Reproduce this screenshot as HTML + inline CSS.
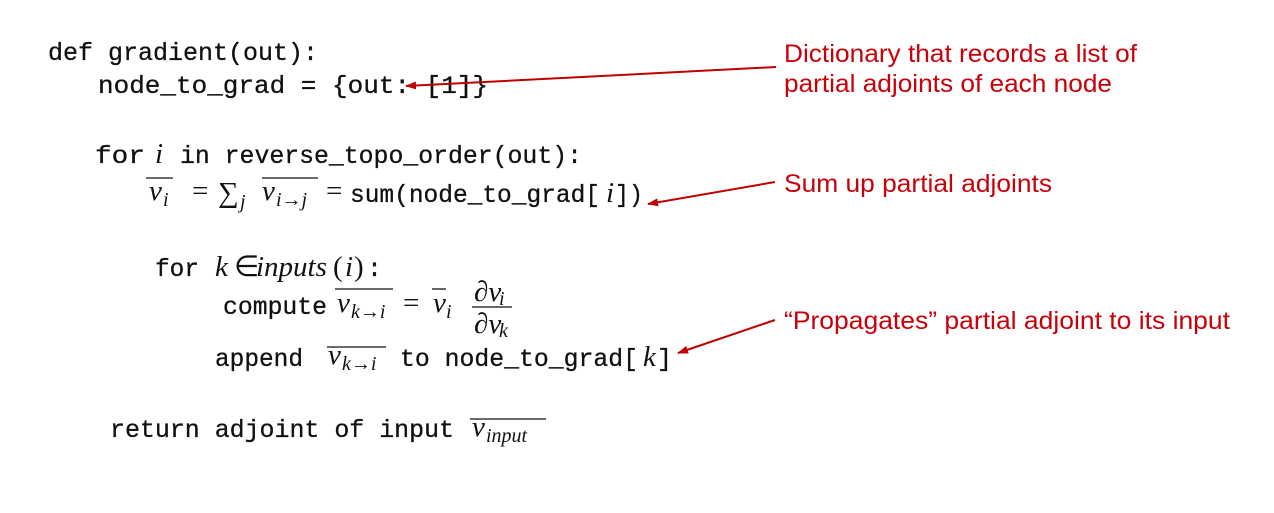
<!DOCTYPE html>
<html><head><meta charset="utf-8"><style>
html,body{margin:0;padding:0;background:#fff;}
svg{display:block;}
.m{font-family:"Liberation Mono",monospace;font-size:25px;fill:#111;stroke:#111;stroke-width:0.3;}
.i{font-family:"Liberation Serif",serif;font-style:italic;font-size:29px;font-weight:normal;fill:#111;stroke:none;}
.sb{font-family:"Liberation Serif",serif;font-style:italic;font-size:20px;font-weight:normal;fill:#111;stroke:none;}
.s{font-family:"Liberation Serif",serif;font-size:29px;font-weight:normal;fill:#111;stroke:none;}
.r{font-family:"Liberation Sans",sans-serif;font-size:25px;fill:#c8000a;}
</style></head><body>
<svg width="1274" height="513" viewBox="0 0 1274 513" xmlns="http://www.w3.org/2000/svg">
<defs><marker id="a" markerWidth="11" markerHeight="8" refX="10" refY="4" orient="auto" markerUnits="userSpaceOnUse"><path d="M11,4 L0,0 L0,8 z" fill="#c00000"/></marker></defs>
<g class="m">
<text x="48" y="60" textLength="270" lengthAdjust="spacingAndGlyphs">def gradient(out):</text>
<text x="98" y="93" textLength="390" lengthAdjust="spacingAndGlyphs">node_to_grad = {out: [1]}</text>
<text x="95" y="163" textLength="50" lengthAdjust="spacingAndGlyphs">for</text>
<text x="155" y="163" class="i">i</text>
<text x="180" y="163" textLength="402" lengthAdjust="spacingAndGlyphs">in reverse_topo_order(out):</text>

<text x="149" y="200" class="i">v</text><text x="163" y="206" class="sb">i</text>
<text x="192" y="200" class="s">=</text>
<text x="218" y="202" class="s" font-size="30">∑</text><text x="240" y="208" class="sb">j</text>
<text x="262" y="200" class="i">v</text><text x="276" y="206" class="sb">i→j</text>
<text x="326" y="200" class="s">=</text>
<text x="350" y="202" textLength="250" lengthAdjust="spacingAndGlyphs">sum(node_to_grad[</text>
<text x="606" y="202" class="i">i</text>
<text x="615" y="202" textLength="28" lengthAdjust="spacingAndGlyphs">])</text>

<text x="155" y="276" textLength="44" lengthAdjust="spacingAndGlyphs">for</text>
<text x="215" y="276" class="i">k</text>
<text x="234" y="276" class="s">∈</text>
<text x="256" y="276" class="i">inputs</text><text x="333" y="276" class="s">(</text><text x="345" y="276" class="i">i</text><text x="354" y="276" class="s">)</text>
<text x="367" y="276">:</text>

<text x="223" y="314" textLength="104" lengthAdjust="spacingAndGlyphs">compute</text>
<text x="337" y="312" class="i">v</text><text x="351" y="318" class="sb">k→i</text>
<text x="403" y="312" class="s">=</text>
<text x="433" y="312" class="i">v</text><text x="446" y="318" class="sb">i</text>
<text x="474" y="301" class="i" font-size="23">∂v</text><text x="499" y="305" class="sb" font-size="15">i</text>
<text x="474" y="333" class="i" font-size="23">∂v</text><text x="499" y="337" class="sb" font-size="15">k</text>

<text x="215" y="366" textLength="88" lengthAdjust="spacingAndGlyphs">append</text>
<text x="328" y="364" class="i">v</text><text x="342" y="370" class="sb">k→i</text>
<text x="400" y="366" textLength="238" lengthAdjust="spacingAndGlyphs">to node_to_grad[</text>
<text x="643" y="366" class="i">k</text>
<text x="657" y="366">]</text>

<text x="110" y="437" textLength="344" lengthAdjust="spacingAndGlyphs">return adjoint of input</text>
<text x="472" y="436" class="i">v</text><text x="486" y="442" class="sb">input</text>
</g>
<g stroke="#111" stroke-width="1.3">
<line x1="146" y1="178" x2="173" y2="178"/>
<line x1="262" y1="178" x2="318" y2="178"/>
<line x1="335" y1="289" x2="393" y2="289"/>
<line x1="432" y1="289" x2="446" y2="289"/>
<line x1="472" y1="307" x2="512" y2="307"/>
<line x1="327" y1="347" x2="386" y2="347"/>
<line x1="470" y1="419" x2="546" y2="419"/>
</g>
<g stroke="#c00000" stroke-width="2" fill="none">
<line x1="776" y1="67" x2="406" y2="86" marker-end="url(#a)"/>
<line x1="775" y1="182" x2="648" y2="204" marker-end="url(#a)"/>
<line x1="775" y1="320" x2="678" y2="353" marker-end="url(#a)"/>
</g>
<g class="r">
<text x="784" y="62" textLength="353" lengthAdjust="spacingAndGlyphs">Dictionary that records a list of</text>
<text x="784" y="92" textLength="328" lengthAdjust="spacingAndGlyphs">partial adjoints of each node</text>
<text x="784" y="192" textLength="268" lengthAdjust="spacingAndGlyphs">Sum up partial adjoints</text>
<text x="784" y="329" textLength="446" lengthAdjust="spacingAndGlyphs">“Propagates” partial adjoint to its input</text>
</g>
</svg>
</body></html>
